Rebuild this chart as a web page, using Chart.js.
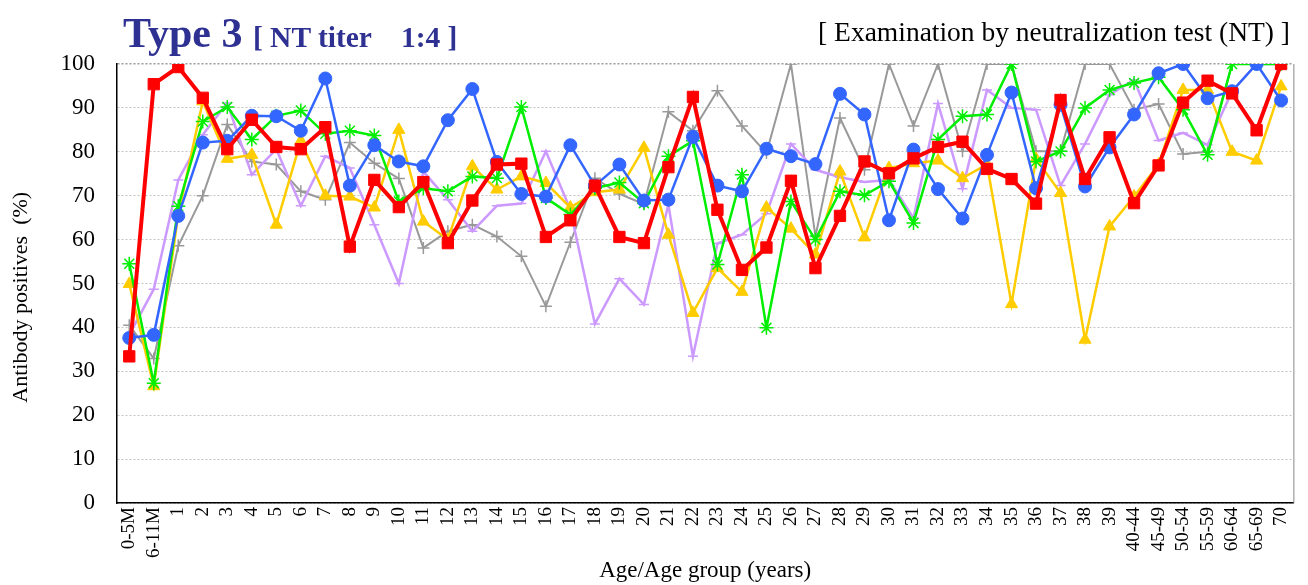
<!DOCTYPE html>
<html>
<head>
<meta charset="utf-8">
<script src="https://cdn.jsdelivr.net/npm/chart.js@4.4.1/dist/chart.umd.min.js"></script>
<style>
  html, body { margin: 0; padding: 0; background: #fff; }
  #wrap { position: relative; width: 1308px; height: 585px; }
  #chartBox { position: absolute; left: 0; top: 0; width: 1308px; height: 585px; }
  .ttl { position: absolute; font-family: "Liberation Serif", "Times New Roman", serif; white-space: pre; line-height: 1; }
  #t1 { left: 123px; top: 12px; font-size: 42px; font-weight: bold; color: #2e3192; }
  #t1 span { font-size: 29.5px; }
  #t2 { right: 18px; top: 18px; font-size: 27.5px; color: #000; }
</style>
</head>
<body>
<div id="wrap">
  <div id="chartBox"><canvas id="myChart"></canvas></div>
  <div class="ttl" id="t1">Type 3 <span>[ NT titer    1:4 ]</span></div>
  <div class="ttl" id="t2">[ Examination by neutralization test (NT) ]</div>
</div>
<script>
const ageGroups = ['0-5M', '6-11M', '1', '2', '3', '4', '5', '6', '7', '8', '9', '10',
  '11', '12', '13', '14', '15', '16', '17', '18', '19', '20', '21', '22', '23', '24',
  '25', '26', '27', '28', '29', '30', '31', '32', '33', '34', '35', '36', '37', '38', '39',
  '40-44', '45-49', '50-54', '55-59', '60-64', '65-69', '70'];

const grayValues = [40.5, 32.9, 58.6, 70.0, 86.2, 77.8, 77.1, 71.0, 69.1, 82.1, 77.4, 73.9,
  58.1, 61.9, 63.4, 60.7, 56.2, 44.8, 59.4, 74.0, 70.4, 68.1, 89.1, 84.8, 93.9, 85.9,
  79.7, 100, 60.7, 87.7, 75.9, 100, 85.9, 100, 80.1, 100, 100, 80.1, 80.1, 100,
  100, 89.6, 90.9, 79.5, 80.0, 100, 100, 100];

const lavenderValues = [38.3, 48.7, 73.6, 83.9, 91.1, 74.8, 80.6, 67.7, 79.0, 76.3, 63.4, 50.0,
  75.5, 69.1, 61.9, 67.7, 68.2, 80.1, 66.8, 40.8, 51.1, 45.2, 68.0, 33.4, 59.1, 61.1,
  65.9, 81.8, 75.9, 74.2, 73.1, 73.6, 64.9, 91.0, 71.6, 94.1, 90.0, 89.6, 72.3, 81.8,
  93.0, 96.4, 82.6, 84.3, 81.6, 93.8, 100, 100];

const yellowValues = [49.9, 26.6, 65.7, 91.5, 78.4, 79.3, 63.4, 82.5, 70.0, 69.8, 67.3, 85.0,
  64.1, 60.0, 76.7, 71.4, 74.4, 72.9, 67.3, 70.8, 71.4, 80.9, 61.1, 43.3, 53.5, 48.1,
  67.3, 62.5, 56.6, 75.5, 60.5, 76.3, 77.4, 78.0, 74.0, 77.1, 45.3, 78.4, 70.6, 37.2,
  63.0, 69.8, 77.1, 94.1, 94.1, 80.0, 78.0, 94.9];

const greenValues = [54.5, 27.3, 67.6, 86.9, 90.2, 82.8, 88.2, 89.4, 84.1, 84.8, 83.7, 68.7,
  71.7, 71.0, 74.4, 74.0, 90.2, 69.5, 65.7, 71.7, 73.0, 68.3, 79.0, 82.5, 54.3, 74.8,
  39.9, 68.7, 60.0, 71.0, 70.1, 73.3, 63.8, 82.8, 88.1, 88.5, 100, 77.8, 80.1, 90.0,
  94.1, 95.7, 97.0, 89.6, 79.3, 100, 100, 100];

const blueValues = [37.6, 38.3, 65.4, 82.1, 82.5, 88.2, 88.1, 84.8, 96.7, 72.3, 81.5, 77.8,
  76.7, 87.2, 94.3, 77.7, 70.4, 69.8, 81.5, 72.3, 77.1, 68.9, 69.1, 83.4, 72.3, 71.0,
  80.7, 79.0, 77.2, 93.2, 88.5, 64.4, 80.5, 71.5, 64.8, 79.3, 93.5, 71.7, 90.7, 72.1,
  81.0, 88.5, 97.9, 100, 92.2, 93.8, 100, 91.7];

const redValues = [33.4, 95.4, 99.3, 92.3, 80.6, 87.3, 81.1, 80.6, 85.6, 58.4, 73.6, 67.4,
  73.1, 59.2, 68.9, 77.1, 77.3, 60.6, 64.4, 72.3, 60.6, 59.2, 76.5, 92.5, 66.8, 53.1,
  58.2, 73.4, 53.5, 65.4, 77.8, 75.1, 78.5, 81.1, 82.3, 76.1, 73.8, 68.2, 91.8, 73.8,
  83.3, 68.3, 76.9, 91.2, 96.2, 93.3, 84.9, 100];

const yTicks = [0, 10, 20, 30, 40, 50, 60, 70, 80, 90, 100];

const serif = '"Liberation Serif", "Times New Roman", serif';

// right-hand frame line of the plot area
const rightFrame = {
  id: 'rightFrame',
  afterDraw(chart) {
    const a = chart.chartArea;
    const c = chart.ctx;
    c.save();
    c.strokeStyle = '#888';
    c.lineWidth = 1;
    c.beginPath();
    c.moveTo(a.right + 0.5, a.top);
    c.lineTo(a.right + 0.5, a.bottom);
    c.stroke();
    c.restore();
  }
};

function series(data, color, width, style, radius, order) {
  return {
    data: data,
    borderColor: color,
    backgroundColor: color,
    pointBackgroundColor: color,
    pointBorderColor: color,
    borderWidth: width,
    pointStyle: style,
    pointRadius: radius,
    pointBorderWidth: style === 'star' || style === 'cross' || style === 'line' ? 1.5 : 1,
    tension: 0,
    fill: false,
    order: order,
  };
}

const ctx = document.getElementById('myChart').getContext('2d');
const myChart = new Chart(ctx, {
  type: 'line',
  data: {
    labels: ageGroups,
    datasets: [
      series(grayValues, '#999999', 2, 'cross', 6, 5),
      series(lavenderValues, '#cc99ff', 2.5, 'line', 5, 4),
      series(yellowValues, '#ffcc00', 2.5, 'triangle', 7, 3),
      series(greenValues, '#00ee00', 2.5, 'star', 7, 2),
      series(blueValues, '#3366ff', 2.5, 'circle', 6.5, 1),
      series(redValues, '#ff0000', 4, 'rect', 8, 0),
    ],
  },
  options: {
    responsive: true,
    maintainAspectRatio: false,
    animation: false,
    layout: { padding: { top: 64, right: 7, left: 0, bottom: 0 } },
    plugins: {
      legend: { display: false },
      tooltip: { enabled: false },
    },
    scales: {
      x: {
        offset: true,
        grid: { display: false, drawTicks: false },
        border: { color: '#000', width: 1.5 },
        ticks: {
          autoSkip: false,
          minRotation: 90,
          maxRotation: 90,
          padding: 4,
          color: '#000',
          font: { family: serif, size: 19 },
        },
        title: {
          display: true,
          text: 'Age/Age group (years)',
          color: '#000',
          font: { family: serif, size: 23 },
          padding: 0,
        },
        afterFit(scale) { scale.height = 82; },
      },
      y: {
        min: 0,
        max: 100,
        afterBuildTicks(scale) { scale.ticks = yTicks.map(v => ({ value: v })); },
        grid: {
          drawTicks: false,
          color: ctx => (ctx.tick && ctx.tick.value === 100 ? '#999' : '#c4c4c4'),
          lineWidth: ctx => (ctx.tick && ctx.tick.value === 100 ? 1.5 : 1),
        },
        // in v4, border.dash styles the grid lines
        border: { color: '#000', width: 1.5, dash: [2, 2] },
        ticks: {
          padding: 22,
          color: '#000',
          font: { family: serif, size: 23 },
        },
        title: {
          display: true,
          // trailing spaces push the visible text a little lower, as in the original
          text: 'Antibody positives  (%)     ',
          color: '#000',
          font: { family: serif, size: 22 },
          padding: { top: 8, bottom: 0 },
        },
        afterFit(scale) { scale.width = 117; },
      },
    },
  },
  plugins: [rightFrame],
});
</script>
</body>
</html>
